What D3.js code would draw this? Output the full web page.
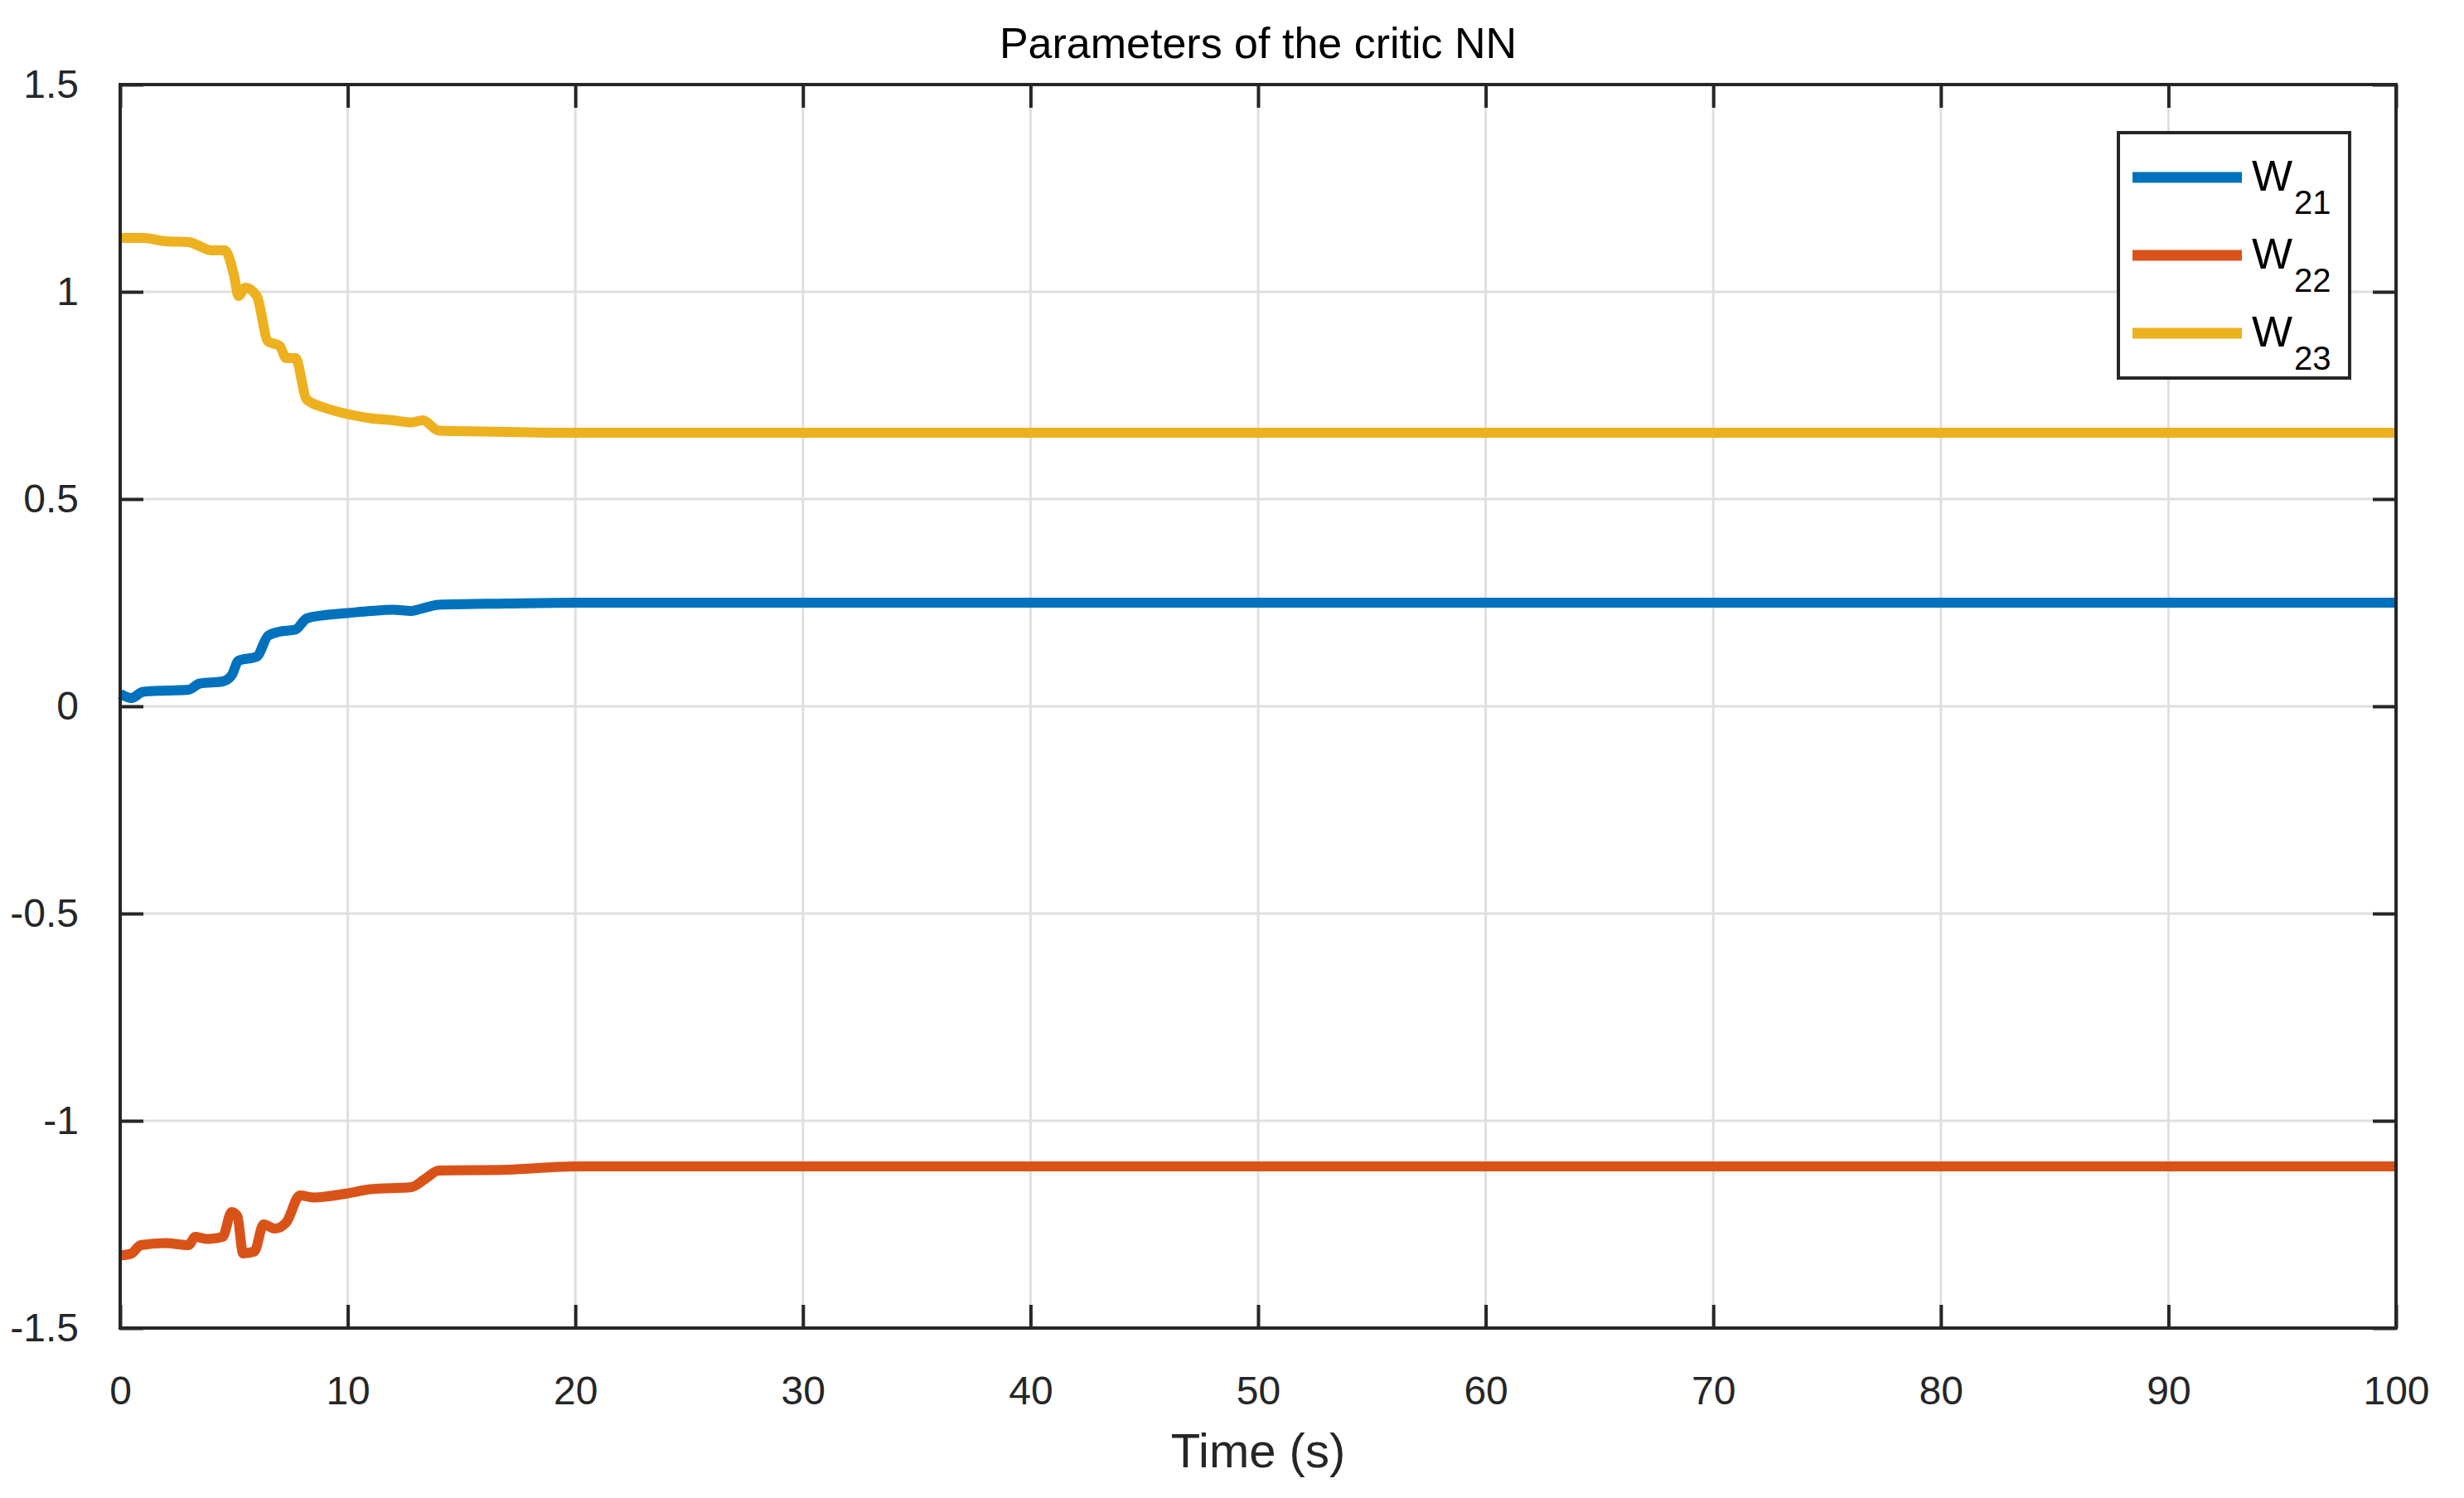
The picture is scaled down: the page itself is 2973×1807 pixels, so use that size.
<!DOCTYPE html>
<html><head><meta charset="utf-8">
<script src="https://cdn.jsdelivr.net/npm/d3@7"></script>
<style>body{margin:0;background:#fff}text{font-family:"Liberation Sans",Arial,sans-serif}</style>
</head><body><svg id="c" width="2973" height="1807"></svg>
<script>
const seriesNames = ["W21","W22","W23"];
const legendSubs = ["21","22","23"];
const colors = ["#0072BD","#D95319","#EDB120"];
const xTicks = [0,10,20,30,40,50,60,70,80,90,100];
const yTicks = [-1.5,-1,-0.5,0,0.5,1,1.5];
const w21 = [[0,0.03],[0.5,0.02],[1,0.035],[2,0.038],[3,0.04],[3.5,0.055],[4.5,0.06],[4.9,0.075],[5.2,0.11],[6,0.12],[6.5,0.17],[7,0.18],[7.7,0.185],[8.2,0.212],[9,0.22],[10,0.225],[11,0.23],[12,0.233],[12.8,0.23],[13.2,0.235],[14,0.245],[17,0.248],[20,0.25],[100,0.25]];
const w22 = [[0,-1.325],[0.5,-1.32],[0.9,-1.30],[2,-1.295],[3,-1.30],[3.3,-1.28],[3.8,-1.285],[4.5,-1.28],[4.9,-1.22],[5.15,-1.23],[5.4,-1.32],[5.9,-1.315],[6.3,-1.25],[6.8,-1.26],[7.3,-1.245],[7.9,-1.18],[8.5,-1.185],[10,-1.175],[11,-1.165],[12.8,-1.16],[13.4,-1.14],[14,-1.12],[17,-1.118],[20,-1.11],[100,-1.11]];
const w23 = [[0,1.13],[1,1.13],[2,1.122],[3,1.12],[3.5,1.11],[4,1.10],[4.6,1.10],[5,1.04],[5.2,0.99],[5.5,1.01],[6,0.99],[6.5,0.88],[7,0.87],[7.3,0.84],[7.7,0.84],[8.2,0.74],[9,0.72],[10,0.705],[11,0.695],[12,0.69],[12.8,0.685],[13.3,0.69],[14,0.665],[16,0.663],[20,0.66],[100,0.66]];
const data = [w21,w22,w23];

const svg = d3.select("#c");
const L=145,R=2891,T=102,B=1602;
const x = d3.scaleLinear().domain([0,100]).range([L,R]);
const y = d3.scaleLinear().domain([-1.5,1.5]).range([B,T]);
const g = svg.append("g");
g.selectAll(".gx").data(xTicks).join("line").attr("x1",d=>x(d)).attr("x2",d=>x(d)).attr("y1",T).attr("y2",B).attr("stroke","#dfdfdf").attr("stroke-width",3);
g.selectAll(".gy").data(yTicks).join("line").attr("y1",d=>y(d)).attr("y2",d=>y(d)).attr("x1",L).attr("x2",R).attr("stroke","#dfdfdf").attr("stroke-width",3);
const line = d3.line().x(d=>x(d[0])).y(d=>y(d[1])).curve(d3.curveMonotoneX);
data.forEach((s,i)=>g.append("path").attr("d",line(s)).attr("fill","none").attr("stroke",colors[i]).attr("stroke-width",12).attr("stroke-linejoin","round"));
const tl=-28;
const ax = d3.axisBottom(x).tickValues(xTicks).tickSize(tl).tickPadding(58).tickFormat(d3.format("d"));
const axT = d3.axisTop(x).tickValues(xTicks).tickSize(tl).tickFormat("");
const ay = d3.axisLeft(y).tickValues(yTicks).tickSize(tl).tickPadding(50).tickFormat(d=>String(d));
const ayR = d3.axisRight(y).tickValues(yTicks).tickSize(tl).tickFormat("");
function style(sel){sel.selectAll("line,path").attr("stroke","#262626").attr("stroke-width",4);sel.selectAll("text").attr("fill","#262626").attr("font-size",48);sel.select(".domain").remove();}
svg.append("g").attr("transform",`translate(0,${B})`).call(ax).call(style);
svg.append("g").attr("transform",`translate(0,${T})`).call(axT).call(style);
svg.append("g").attr("transform",`translate(${L},0)`).call(ay).call(style);
svg.append("g").attr("transform",`translate(${R},0)`).call(ayR).call(style);
svg.append("rect").attr("x",L).attr("y",T).attr("width",R-L).attr("height",B-T).attr("fill","none").attr("stroke","#262626").attr("stroke-width",4);
svg.append("text").attr("x",(L+R)/2).attr("y",70).attr("text-anchor","middle").attr("font-size",52).attr("fill","#000").text("Parameters of the critic NN");
svg.append("text").attr("x",(L+R)/2).attr("y",1770).attr("text-anchor","middle").attr("font-size",58).attr("fill","#262626").text("Time (s)");
const lg = svg.append("g");
lg.append("rect").attr("x",2556).attr("y",160).attr("width",279).attr("height",296).attr("fill","#fff").attr("stroke","#262626").attr("stroke-width",4);
seriesNames.forEach((n,i)=>{
  const yy=214+i*94;
  lg.append("line").attr("x1",2573).attr("x2",2705).attr("y1",yy).attr("y2",yy).attr("stroke",colors[i]).attr("stroke-width",13);
  const t=lg.append("text").attr("x",2717).attr("y",yy+16).attr("font-size",52).attr("fill","#000");
  t.append("tspan").text("W");
  t.append("tspan").attr("dx",2).attr("dy",28).attr("font-size",40).text(legendSubs[i]);
});
</script></body></html>
